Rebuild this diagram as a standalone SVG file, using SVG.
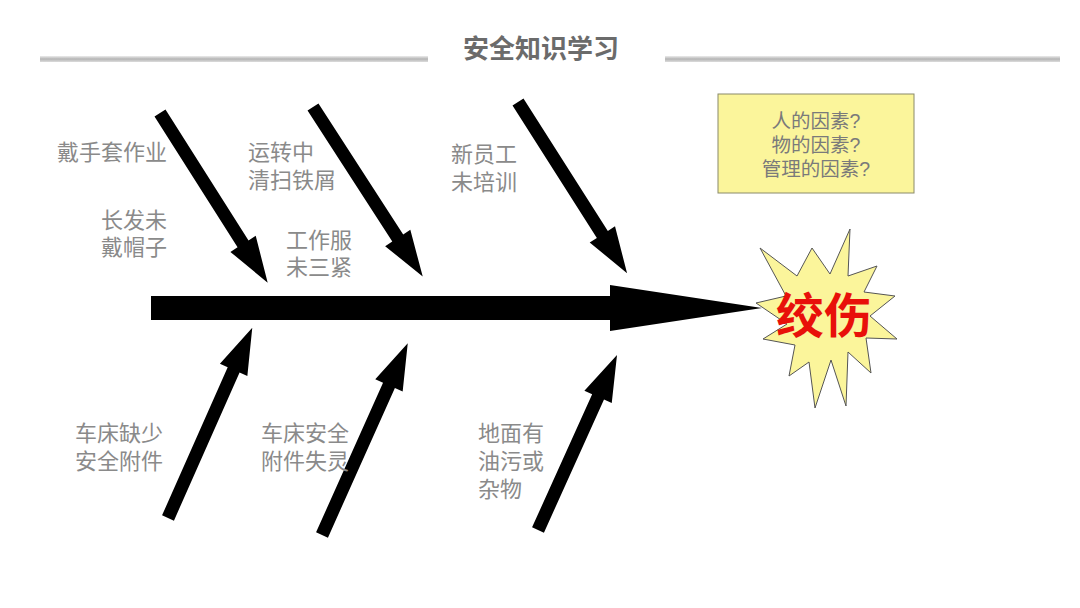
<svg xmlns="http://www.w3.org/2000/svg" width="1080" height="608" viewBox="0 0 1080 608">
<defs>
<linearGradient id="lg" x1="0" y1="0" x2="0" y2="1">
<stop offset="0" stop-color="#ececec"/>
<stop offset="0.5" stop-color="#b4b4b4"/>
<stop offset="1" stop-color="#dcdcdc"/>
</linearGradient>
<style>
.lbl{font-family:"Liberation Sans","Noto Sans CJK SC",sans-serif;font-size:22px;fill:#8a8a8a}
.q{font-family:"Liberation Sans","Noto Sans CJK SC",sans-serif;font-size:19.5px;fill:#7a7a7a;text-anchor:middle}
.arr{fill:#000}
</style>
</defs>
<rect width="1080" height="608" fill="#fff"/>
<g id="title">
<rect x="40" y="56" width="388" height="6" fill="url(#lg)"/>
<rect x="665" y="56" width="395" height="6" fill="url(#lg)"/>
<text x="541" y="58" text-anchor="middle" style="font-family:'Liberation Sans','Noto Sans CJK SC',sans-serif;font-size:26px;font-weight:bold;fill:#6b6b6b">安全知识学习</text>
</g>
<g id="connectors">
<polygon id="spine" class="arr" points="151,296 610,296 610,285 762,308 610,331 610,320 151,320"/>
<polygon class="arr" transform="translate(160,113) rotate(57.6)" points="0,-6.5 155,-6.5 155,-15 201,0 155,15 155,6.5 0,6.5"/>
<polygon class="arr" transform="translate(313,107) rotate(57.1)" points="0,-6.5 156,-6.5 156,-15 202,0 156,15 156,6.5 0,6.5"/>
<polygon class="arr" transform="translate(518,102) rotate(57.5)" points="0,-6.5 157,-6.5 157,-15 203,0 157,15 157,6.5 0,6.5"/>
<polygon class="arr" transform="translate(168,518) rotate(-66.1)" points="0,-6.5 162,-6.5 162,-15 208,0 162,15 162,6.5 0,6.5"/>
<polygon class="arr" transform="translate(322,535) rotate(-65.9)" points="0,-6.5 164,-6.5 164,-15 210,0 164,15 164,6.5 0,6.5"/>
<polygon class="arr" transform="translate(538,530) rotate(-65.7)" points="0,-6.5 146,-6.5 146,-15 192,0 146,15 146,6.5 0,6.5"/>
</g>
<g id="box">
<rect x="718" y="94" width="196" height="99" fill="#fbf59b" stroke="#8a8a6a" stroke-width="1"/>
<text class="q" x="816" y="128">人的因素?</text>
<text class="q" x="816" y="152">物的因素?</text>
<text class="q" x="816" y="176">管理的因素?</text>
</g>
<g id="result">
<polygon points="812,248 830,274 850,229 848,276 877,266 864,292 895,296 870,316 897,339 866,338 871,373 848,352 846,406 831,360 815,408 809,362 789,376 795,345 763,339 787,324 756,303 786,296 760,248 797,276" fill="#fbf59b" stroke="#555" stroke-width="1"/>
<text x="824" y="333" text-anchor="middle" style="font-family:'Liberation Sans','Noto Sans CJK SC',sans-serif;font-size:48px;font-weight:bold;fill:#e8100a">绞伤</text>
</g>
<g id="c1"><text class="lbl" x="57" y="160">戴手套作业</text></g>
<g id="c2"><text class="lbl" x="101" y="228">长发未</text><text class="lbl" x="101" y="255">戴帽子</text></g>
<g id="c3"><text class="lbl" x="248" y="160">运转中</text><text class="lbl" x="248" y="188">清扫铁屑</text></g>
<g id="c4"><text class="lbl" x="286" y="248">工作服</text><text class="lbl" x="286" y="275">未三紧</text></g>
<g id="c5"><text class="lbl" x="451" y="162">新员工</text><text class="lbl" x="451" y="190">未培训</text></g>
<g id="c6"><text class="lbl" x="75" y="441">车床缺少</text><text class="lbl" x="75" y="469">安全附件</text></g>
<g id="c7"><text class="lbl" x="261" y="441">车床安全</text><text class="lbl" x="261" y="469">附件失灵</text></g>
<g id="c8"><text class="lbl" x="478" y="441">地面有</text><text class="lbl" x="478" y="469">油污或</text><text class="lbl" x="478" y="497">杂物</text></g>
</svg>
